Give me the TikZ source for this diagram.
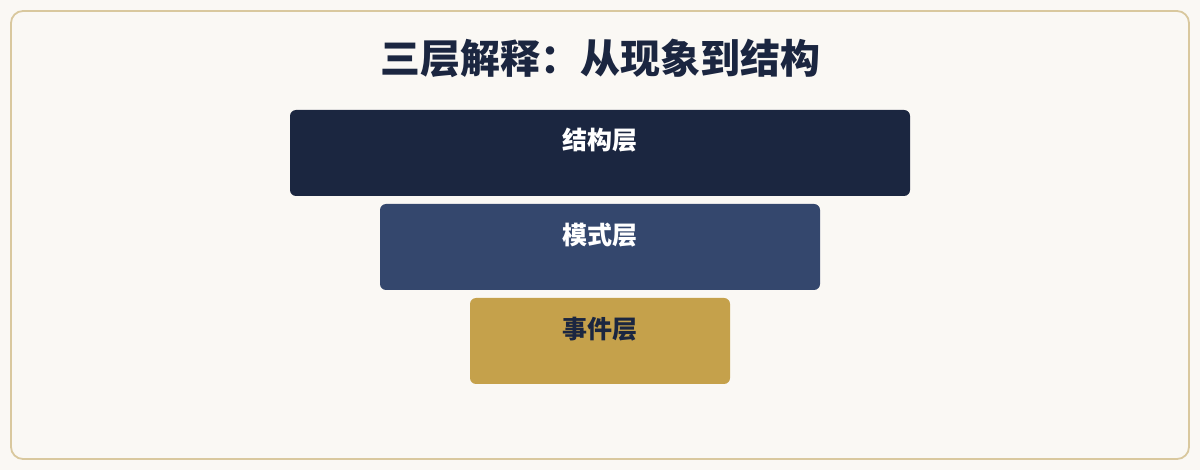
\documentclass[tikz,border=0pt]{standalone}
\usepackage{fontspec}
\newfontfamily\cjk{Noto Sans CJK SC}
\definecolor{bgc}{HTML}{FAF8F4}
\definecolor{framec}{HTML}{D9C89E}
\definecolor{navy}{HTML}{1B2640}
\definecolor{slate}{HTML}{34476D}
\definecolor{gold}{HTML}{C5A14B}
\tikzset{
  layerbox/.style={rounded corners=6pt, draw=none},
  layerlabel/.style={font=\cjk\bfseries\fontsize{25}{30}\selectfont, anchor=center, inner sep=0pt},
}
\begin{document}
\begin{tikzpicture}[x=1pt,y=-1pt]
\useasboundingbox (0,0) rectangle (1200,470);
\fill[bgc] (0,0) rectangle (1200,470);
\draw[framec, line width=1.8pt, rounded corners=12pt] (11,11) rectangle (1189,459);
\node[font=\cjk\bfseries\fontsize{40}{46}\selectfont, text=navy, inner sep=0pt] (title) at (600,58) {三层解释：从现象到结构};
\fill[navy, layerbox] (290,110) rectangle (910,196);
\fill[slate, layerbox] (380,204) rectangle (820,290);
\fill[gold, layerbox] (470,298) rectangle (730,384);
\node[layerlabel, text=white] (l1) at (600,140) {结构层};
\node[layerlabel, text=white] (l2) at (600,235) {模式层};
\node[layerlabel, text=navy] (l3) at (600,329) {事件层};
\end{tikzpicture}
\end{document}
